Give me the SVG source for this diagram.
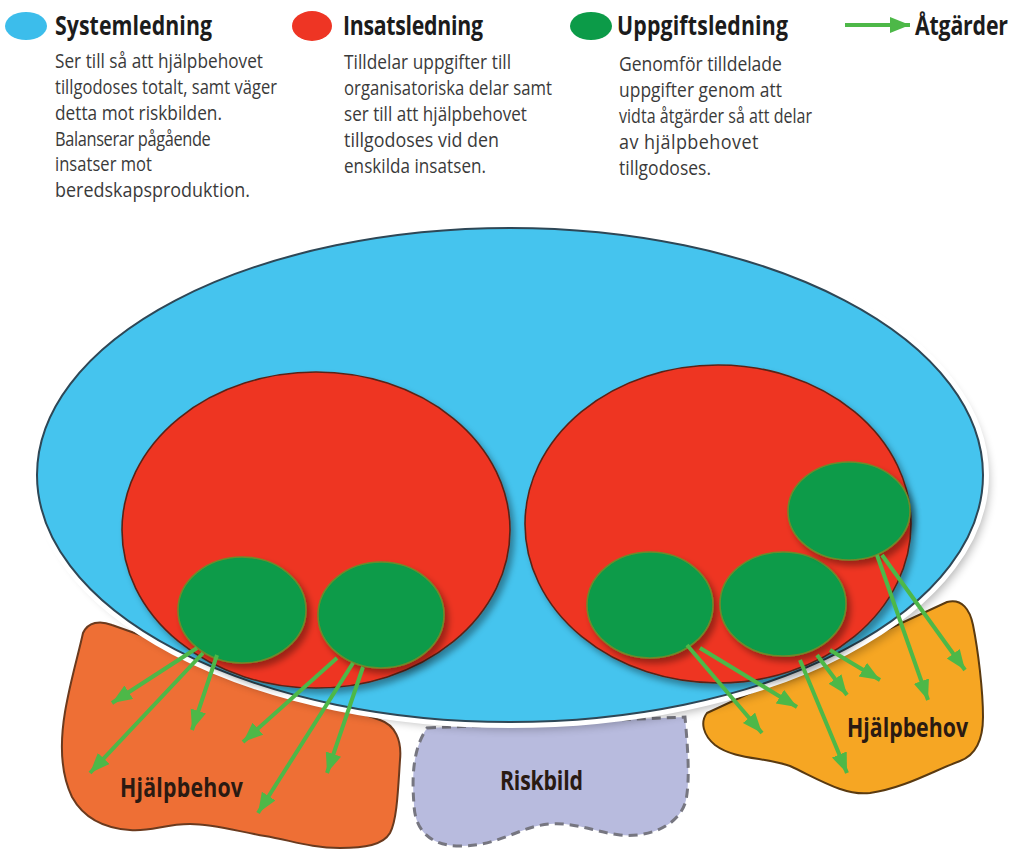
<svg xmlns="http://www.w3.org/2000/svg" width="1022" height="857" viewBox="0 0 1022 857">
<defs>
<style>
.title{font-family:"Open Sans","Liberation Sans",sans-serif;font-weight:700;font-size:26px;fill:#1c1c1c}
.desc{font-family:"Open Sans","Liberation Sans",sans-serif;font-size:20px;fill:#3a3a3a}
.lbl{font-family:"Open Sans","Liberation Sans",sans-serif;font-weight:700;font-size:26px;fill:#2a1a12}
.blue{fill:#45C4EE;stroke:#2E4756;stroke-width:2}
.red{fill:#EE3524;stroke:#5A2418;stroke-width:1.6}
.green{fill:#0C9B48;stroke:#6E8A2C;stroke-width:1.6}
.arr{stroke:#4DB848;stroke-width:4;fill:none;marker-end:url(#ah)}
</style>
<marker id="ah" markerUnits="userSpaceOnUse" markerWidth="22" markerHeight="18" refX="20" refY="8" orient="auto" viewBox="0 0 22 18">
<path d="M0,0 L20,8 L0,16 Z" fill="#4DB848"/>
</marker>
<filter id="sh" x="-20%" y="-20%" width="140%" height="140%">
<feDropShadow dx="4" dy="5" stdDeviation="3" flood-color="#000" flood-opacity="0.35"/>
</filter>
<filter id="blur" x="-10%" y="-10%" width="120%" height="120%">
<feGaussianBlur stdDeviation="5"/>
</filter>
</defs>
<rect width="1022" height="857" fill="#fff"/>

<g id="legend">
<ellipse cx="26" cy="26" rx="21" ry="14" fill="#3CBDEB"/>
<text class="title" transform="translate(55,35) scale(0.82,1)" textLength="191.5" lengthAdjust="spacing">Systemledning</text>
<text class="desc" transform="translate(55,68) scale(0.861,1)" textLength="241.6" lengthAdjust="spacing">Ser till så att hjälpbehovet</text>
<text class="desc" transform="translate(55,94) scale(0.827,1)" textLength="268.4" lengthAdjust="spacing">tillgodoses totalt, samt väger</text>
<text class="desc" transform="translate(55,120) scale(0.862,1)" textLength="193.7" lengthAdjust="spacing">detta mot riskbilden.</text>
<text class="desc" transform="translate(55,146) scale(0.82,1)" textLength="190" lengthAdjust="spacing">Balanserar pågående</text>
<text class="desc" transform="translate(55,171) scale(0.827,1)" textLength="117.3" lengthAdjust="spacing">insatser mot</text>
<text class="desc" transform="translate(55,197) scale(0.897,1)" textLength="217.4" lengthAdjust="spacing">beredskapsproduktion.</text>

<ellipse cx="312" cy="26" rx="20" ry="15" fill="#EE3524"/>
<text class="title" transform="translate(343,35) scale(0.82,1)" textLength="170.7" lengthAdjust="spacing">Insatsledning</text>
<text class="desc" transform="translate(344,69) scale(0.865,1)" textLength="193.1" lengthAdjust="spacing">Tilldelar uppgifter till</text>
<text class="desc" transform="translate(344,95) scale(0.837,1)" textLength="248.5" lengthAdjust="spacing">organisatoriska delar samt</text>
<text class="desc" transform="translate(344,121) scale(0.853,1)" textLength="214.5" lengthAdjust="spacing">ser till att hjälpbehovet</text>
<text class="desc" transform="translate(344,147) scale(0.893,1)" textLength="173.6" lengthAdjust="spacing">tillgodoses vid den</text>
<text class="desc" transform="translate(344,173) scale(0.855,1)" textLength="166.1" lengthAdjust="spacing">enskilda insatsen.</text>

<ellipse cx="591" cy="26" rx="21" ry="14" fill="#0C9B48"/>
<text class="title" transform="translate(617,35) scale(0.82,1)" textLength="208.5" lengthAdjust="spacing">Uppgiftsledning</text>
<text class="desc" transform="translate(619,71) scale(0.879,1)" textLength="185.4" lengthAdjust="spacing">Genomför tilldelade</text>
<text class="desc" transform="translate(619,97) scale(0.871,1)" textLength="187.1" lengthAdjust="spacing">uppgifter genom att</text>
<text class="desc" transform="translate(619,123) scale(0.801,1)" textLength="241" lengthAdjust="spacing">vidta åtgärder så att delar</text>
<text class="desc" transform="translate(619,149) scale(0.9,1)" textLength="155" lengthAdjust="spacing">av hjälpbehovet</text>
<text class="desc" transform="translate(619,175) scale(0.874,1)" textLength="105.3" lengthAdjust="spacing">tillgodoses.</text>

<line class="arr" x1="845" y1="25" x2="910" y2="25"/>
<text class="title" transform="translate(915,35) scale(0.82,1)" textLength="113.4" lengthAdjust="spacing">Åtgärder</text>
</g>

<g id="hjalpbehov-left">
<path d="M83,633 C88,622 100,620 112,625 L380,720 C395,725 402,740 400,760 C398,790 397,820 390,833 C383,845 365,848 340,848 C310,848 290,840 265,836 C240,832 215,824 190,824 C165,824 150,832 130,830 C100,828 82,815 72,797 C60,772 60,742 65,712 C70,682 78,656 83,633 Z" fill="#EE6F35" stroke="#6B3A1E" stroke-width="2"/>
<text class="lbl" transform="translate(120,797) scale(0.82,1)" textLength="150" lengthAdjust="spacing">Hjälpbehov</text>
</g>

<g id="hjalpbehov-right">
<path d="M707,713 L947,602 C962,598 970,610 973,625 C978,650 983,690 983,717 C983,740 976,755 960,761 C935,770 905,788 870,793 C845,796 820,780 790,766 C765,757 735,760 715,745 C703,735 700,722 707,713 Z" fill="#F6A623" stroke="#5A3A10" stroke-width="2"/>
<text class="lbl" transform="translate(847,737) scale(0.82,1)" textLength="147.6" lengthAdjust="spacing">Hjälpbehov</text>
</g>

<g id="riskbild">
<path d="M427,728 L685,717 C688,750 690,780 686,800 C680,825 650,838 620,835 C595,832 575,822 550,824 C520,826 500,846 460,846 C430,846 415,830 414,805 C412,780 412,750 427,728 Z" fill="#B8BBDE" stroke="#767680" stroke-width="3" stroke-dasharray="9 6"/>
<text class="lbl" transform="translate(500,790) scale(0.82,1)" textLength="101.2" lengthAdjust="spacing">Riskbild</text>
</g>

<g id="systemledning">
<ellipse cx="516" cy="482" rx="473" ry="247" fill="#000" opacity="0.28" filter="url(#blur)"/>
<ellipse cx="510" cy="475" rx="476" ry="250" fill="none" stroke="#fff" stroke-width="6"/>
<ellipse class="blue" cx="510" cy="475" rx="473" ry="247"/>
</g>

<g id="insats-left">
<ellipse class="red" cx="316" cy="530" rx="194" ry="158" filter="url(#sh)"/>
</g>
<g id="insats-right">
<ellipse class="red" cx="718" cy="524" rx="193" ry="159" filter="url(#sh)"/>
</g>

<g id="uppgift-1"><ellipse class="green" cx="242" cy="610" rx="64" ry="53" filter="url(#sh)"/></g>
<g id="uppgift-2"><ellipse class="green" cx="381" cy="615" rx="63" ry="53" filter="url(#sh)"/></g>
<g id="uppgift-3"><ellipse class="green" cx="650" cy="605" rx="63" ry="53" filter="url(#sh)"/></g>
<g id="uppgift-4"><ellipse class="green" cx="783" cy="604" rx="63" ry="52" filter="url(#sh)"/></g>
<g id="uppgift-5"><ellipse class="green" cx="849" cy="511" rx="61" ry="49" filter="url(#sh)"/></g>

<g id="connectors">
<line class="arr" x1="197" y1="648" x2="112" y2="703"/>
<line class="arr" x1="203" y1="653" x2="90" y2="773"/>
<line class="arr" x1="217" y1="655" x2="192" y2="730"/>
<line class="arr" x1="337" y1="658" x2="243" y2="742"/>
<line class="arr" x1="353" y1="663" x2="258" y2="813"/>
<line class="arr" x1="363" y1="667" x2="327" y2="773"/>
<line class="arr" x1="687" y1="645" x2="762" y2="733"/>
<line class="arr" x1="700" y1="648" x2="797" y2="707"/>
<line class="arr" x1="800" y1="660" x2="847" y2="773"/>
<line class="arr" x1="817" y1="655" x2="847" y2="695"/>
<line class="arr" x1="830" y1="650" x2="880" y2="680"/>
<line class="arr" x1="877" y1="555" x2="928" y2="700"/>
<line class="arr" x1="882" y1="555" x2="965" y2="670"/>
</g>
</svg>
